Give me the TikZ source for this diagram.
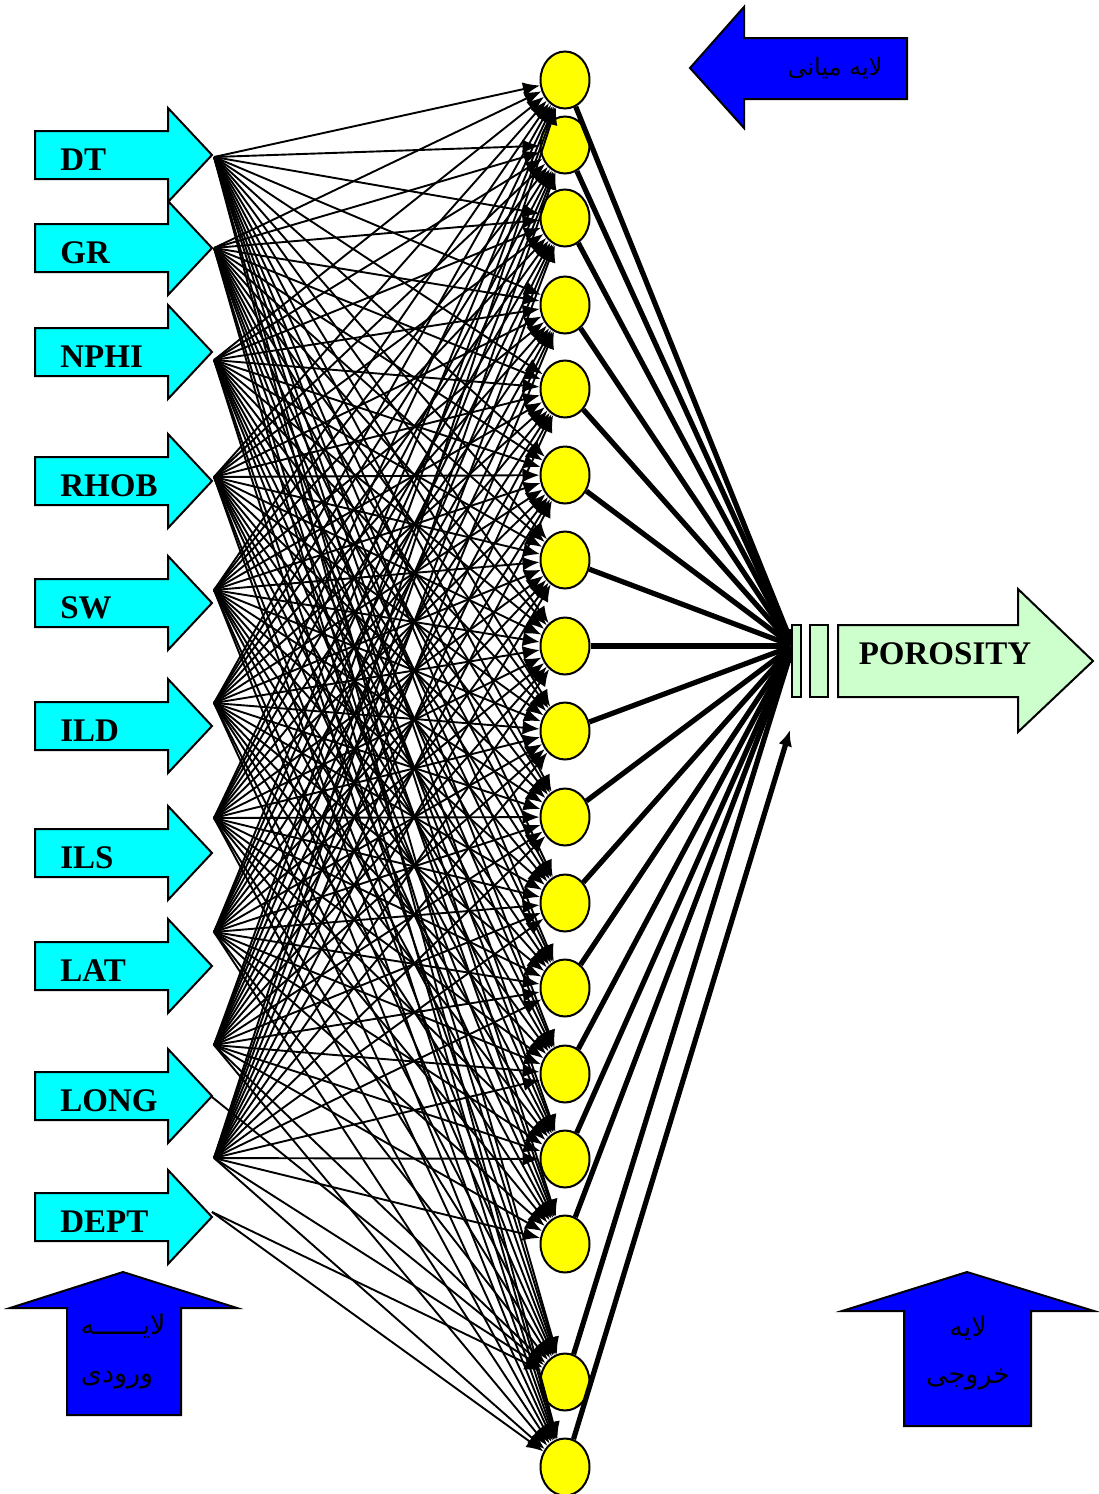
\documentclass[tikz,border=0pt]{standalone}
\usepackage{fontspec}
\setmainfont{Liberation Serif}
\newfontfamily\arabicfont[Script=Arabic]{DejaVu Sans}
\TeXXeTstate=1
\usetikzlibrary{shapes.geometric,arrows.meta}
\definecolor{incyan}{HTML}{00FFFF}
\definecolor{layblue}{HTML}{0000FF}
\definecolor{hidyel}{HTML}{FFFF00}
\definecolor{outgreen}{HTML}{CCFFCC}
\tikzset{
  shapeout/.style={draw=black,line width=1pt,line join=miter},
  inlab/.style={font=\fontsize{16.5}{18}\selectfont\bfseries,anchor=west,inner sep=0pt},
  arlab/.style={font=\arabicfont\fontsize{13.5}{16}\selectfont,inner sep=0pt},
  arlabsm/.style={font=\arabicfont\fontsize{12}{15}\selectfont,inner sep=0pt},
  hid/.style={ellipse,draw=black,line width=1pt,fill=hidyel,minimum width=24.5pt,minimum height=28.5pt,inner sep=0pt},
  conn/.style={line width=0.95pt,-{Latex[length=8.5pt,width=7pt]}},
  thickconn/.style={line width=2.6pt,-{Latex[length=8pt,width=7pt]}}
}
\begin{document}
\begin{tikzpicture}[x=0.5pt,y=-0.5pt]
\useasboundingbox (0,0) rectangle (1098,1494);
\fill[white] (0,0) rectangle (1098,1494);
% input arrows
\foreach \t in {155,248,352,481,603,726,853,966,1096,1217}{
  \filldraw[shapeout,fill=incyan] (35,\t-24) -- (168,\t-24) -- (168,\t-47) -- (212,\t) -- (168,\t+47) -- (168,\t+24) -- (35,\t+24) -- cycle;
}
\node[inlab] (lDT) at (60,160) {DT};
\node[inlab] (lGR) at (60,253) {GR};
\node[inlab] (lNPHI) at (60,357) {NPHI};
\node[inlab] (lRHOB) at (60,486) {RHOB};
\node[inlab] (lSW) at (60,608) {SW};
\node[inlab] (lILD) at (60,731) {ILD};
\node[inlab] (lILS) at (60,858) {ILS};
\node[inlab] (lLAT) at (60,971) {LAT};
\node[inlab] (lLONG) at (60,1101) {LONG};
\node[inlab] (lDEPT) at (60,1222) {DEPT};
% hidden nodes
\foreach \i/\y in {1/80,2/145,3/218,4/305,5/389,6/475,7/560,8/646,9/731,10/817,11/903,12/988,13/1074,14/1159,15/1244,16/1382,17/1467}{
  \node[hid] (h\i) at (565,\y) {};
}
% fan origins
\foreach \k/\y in {1/157,2/248,3/360,4/477,5/590,6/703,7/818,8/932,9/1045,10/1158}{
  \coordinate (o\k) at (214,\y);
}
\coordinate (olong) at (212,1097);
\coordinate (odept) at (212,1212);
\foreach \k in {1,...,10}{
  \foreach \i in {1,...,17}{
    \draw[conn] (o\k) -- (h\i);
  }
}
\draw[conn] (olong) -- (h16);
\draw[conn] (odept) -- (h16);
\draw[conn] (odept) -- (h17);
% output
\coordinate (out) at (793,646);
\coordinate (outlow) at (790,730);
\foreach \i in {1,...,16}{
  \draw[thickconn] (h\i) -- (out);
}
\draw[thickconn] (h17) -- (outlow);
\filldraw[shapeout,fill=outgreen] (792,625) rectangle (801,697);
\filldraw[shapeout,fill=outgreen] (810,625) rectangle (828,697);
\filldraw[shapeout,fill=outgreen] (838,625) -- (1018,625) -- (1018,589) -- (1093,661) -- (1018,732) -- (1018,697) -- (838,697) -- cycle;
\node[inlab,anchor=center] (lpor) at (945,654) {POROSITY};
% layer arrows
\filldraw[shapeout,fill=layblue] (690,68) -- (744,7) -- (744,38) -- (907,38) -- (907,99) -- (744,99) -- (744,128) -- cycle;
\node[arlabsm] (lmid) at (835,68) {\beginR لایه میانی\endR};
\filldraw[shapeout,fill=layblue] (123,1272) -- (237,1308) -- (181,1308) -- (181,1415) -- (67,1415) -- (67,1308) -- (10,1308) -- cycle;
\node[arlab] (lin1) at (123,1326) {\beginR لایــــــه\endR};
\node[arlab] (lin2) at (117,1380) {\beginR ورودی\endR};
\filldraw[shapeout,fill=layblue] (967,1272) -- (1094,1311) -- (1031,1311) -- (1031,1426) -- (904,1426) -- (904,1311) -- (842,1311) -- cycle;
\node[arlab] (lout1) at (968,1328) {\beginR لایه\endR};
\node[arlab] (lout2) at (968,1380) {\beginR خروجی\endR};
\end{tikzpicture}
\end{document}
